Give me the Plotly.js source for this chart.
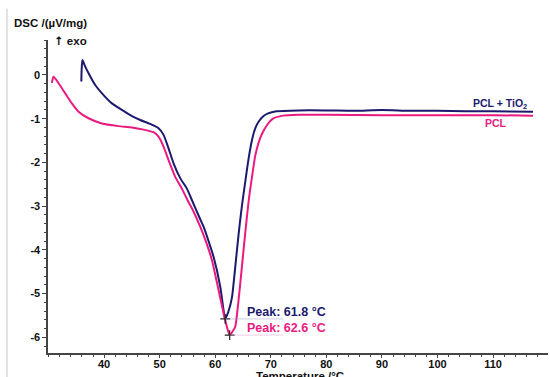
<!DOCTYPE html>
<html>
<head>
<meta charset="utf-8">
<script src="https://cdn.plot.ly/plotly-3.0.1.min.js"></script>
<style>html,body{margin:0;padding:0;background:#fff;}#chart{width:550px;height:377px;}</style>
</head>
<body>
<div id="chart"></div>
<script>
// PCL + TiO2 (navy)
const tio2T = [35.9, 35.95, 36.1, 36.5, 37.2, 38.4, 39.9, 41.4, 43.2, 45.0, 46.5, 48.3, 49.8, 50.7, 51.6, 52.5, 53.7, 54.9, 55.8, 57.3, 57.9, 58.8, 59.7, 60.9, 61.5, 61.8, 62.4, 63.0, 63.6, 64.2, 64.8, 65.4, 66.0, 66.6, 67.2, 67.8, 68.6, 69.5, 71.0, 75, 80, 85, 90, 95, 100, 105, 110, 117.2];
const tio2DSC = [-0.15, 0.10, 0.34, 0.22, 0.04, -0.23, -0.46, -0.65, -0.80, -0.94, -1.03, -1.12, -1.22, -1.37, -1.68, -2.02, -2.36, -2.60, -2.86, -3.30, -3.47, -3.80, -4.16, -4.84, -5.38, -5.58, -5.40, -5.10, -4.40, -3.65, -3.00, -2.45, -1.92, -1.50, -1.22, -1.07, -0.95, -0.88, -0.83, -0.81, -0.81, -0.82, -0.80, -0.82, -0.82, -0.83, -0.83, -0.84];
// PCL (pink)
const pclT = [30.6, 30.9, 31.8, 33.0, 34.2, 35.4, 37.2, 39.6, 42.6, 45.0, 47.1, 48.9, 49.8, 50.7, 51.6, 52.8, 54.0, 55.0, 56.0, 57.3, 58.3, 59.4, 60.6, 61.5, 62.1, 62.6, 63.2, 63.6, 64.2, 64.8, 65.4, 66.0, 66.6, 67.2, 67.8, 68.4, 69.3, 70.4, 72.2, 75, 80, 90, 100, 110, 117.2];
const pclDSC = [-0.18, -0.04, -0.19, -0.42, -0.65, -0.84, -0.99, -1.11, -1.17, -1.20, -1.25, -1.31, -1.41, -1.64, -1.95, -2.33, -2.60, -2.86, -3.10, -3.47, -3.80, -4.23, -4.92, -5.45, -5.76, -5.95, -5.85, -5.76, -5.15, -4.39, -3.62, -2.90, -2.35, -1.85, -1.55, -1.35, -1.15, -1.00, -0.93, -0.91, -0.91, -0.92, -0.92, -0.92, -0.93];
// Peaks
const peakT = [61.8, 62.6];
const peakDSC = [-5.58, -5.95];
const peakLabels = ['Peak: 61.8 °C', 'Peak: 62.6 °C'];
const seriesNames = ['PCL + TiO<sub>2</sub>', 'PCL'];
const xTicks = [40, 50, 60, 70, 80, 90, 100, 110];
const yTicks = [0, -1, -2, -3, -4, -5, -6];

const navy = '#1c1a6e';
const pink = '#ea1a7f';
const colors = [navy, pink];
const F = 'Liberation Sans, Arial, sans-serif';

const traces = [
  {x: tio2T, y: tio2DSC, type: 'scatter', mode: 'lines', line: {color: navy, width: 2, shape: 'spline', smoothing: 0.6}, hoverinfo: 'skip'},
  {x: pclT, y: pclDSC, type: 'scatter', mode: 'lines', line: {color: pink, width: 2, shape: 'spline', smoothing: 0.6}, hoverinfo: 'skip'},
  {x: peakT, y: peakDSC, type: 'scatter', mode: 'markers', marker: {symbol: 'cross-thin', size: 7, line: {color: '#222', width: 1.2}}, hoverinfo: 'skip'}
];

const shapes = [
  {type: 'line', xref: 'paper', yref: 'paper', x0: -0.082, x1: -0.082, y0: -0.08, y1: 1.10, line: {color: '#c8c8c8', width: 1}},
  {type: 'line', x0: peakT[0], x1: peakT[0] + 10.5, y0: peakDSC[0], y1: peakDSC[0], line: {color: 'rgba(150,150,200,0.4)', width: 1.2}},
  {type: 'line', x0: peakT[1], x1: peakT[1] + 9.7, y0: peakDSC[1], y1: peakDSC[1], line: {color: 'rgba(225,160,200,0.4)', width: 1.2}}
];

const annotations = [
  {xref: 'paper', yref: 'paper', x: -0.072, y: 1.054, xanchor: 'left', yanchor: 'middle', showarrow: false, text: 'DSC /(µV/mg)', font: {family: F, size: 11.5, color: '#111', weight: 'bold'}},
  {xref: 'paper', yref: 'paper', x: 0.008, y: 0.997, xanchor: 'left', yanchor: 'middle', showarrow: false, text: '<span style="font-family:DejaVu Sans">↑</span> exo', font: {family: F, size: 11.5, color: '#111', weight: 'bold'}},
  {xref: 'paper', yref: 'paper', x: 0.504, y: -0.047, xanchor: 'center', yanchor: 'top', showarrow: false, text: 'Temperature /°C', font: {family: F, size: 11.5, color: '#111', weight: 'bold'}},
  {x: 65.3, y: -5.42, xanchor: 'left', yanchor: 'middle', showarrow: false, text: peakLabels[0], font: {family: F, size: 12.5, color: navy, weight: 'bold'}},
  {x: 65.3, y: -5.79, xanchor: 'left', yanchor: 'middle', showarrow: false, text: peakLabels[1], font: {family: F, size: 12.5, color: pink, weight: 'bold'}},
  {x: 116.4, y: -0.66, xanchor: 'right', yanchor: 'middle', showarrow: false, text: seriesNames[0], font: {family: F, size: 10.5, color: colors[0], weight: 'bold'}},
  {x: 110.6, y: -1.10, xanchor: 'center', yanchor: 'middle', showarrow: false, text: seriesNames[1], font: {family: F, size: 10.5, color: colors[1], weight: 'bold'}}
];

const layout = {
  width: 550, height: 377,
  margin: {l: 48, r: 2, t: 40, b: 24, pad: 0},
  paper_bgcolor: '#fff', plot_bgcolor: '#fff',
  showlegend: false,
  xaxis: {
    range: [29.9, 119.9], tickvals: xTicks, ticktext: xTicks.map(String),
    showgrid: false, zeroline: false, showline: true, linecolor: '#444', linewidth: 1.6,
    ticks: 'outside', ticklen: 3, tickcolor: '#444', tickwidth: 1, ticklabelstandoff: -3,
    minor: {dtick: 2, tick0: 0, ticks: 'outside', ticklen: 2.5, tickcolor: '#444', showgrid: false},
    tickfont: {family: F, size: 11, color: '#111', weight: 'bold'}
  },
  yaxis: {
    range: [-6.36, 0.80], tickvals: yTicks, ticktext: yTicks.map(String),
    showgrid: false, zeroline: false, showline: true, linecolor: '#444', linewidth: 1.6,
    ticks: 'outside', ticklen: 4, tickcolor: '#444', tickwidth: 1,
    minor: {dtick: 0.2, tick0: 0, ticks: 'outside', ticklen: 2.5, tickcolor: '#444', showgrid: false},
    tickfont: {family: F, size: 11, color: '#111', weight: 'bold'}
  },
  shapes: shapes,
  annotations: annotations
};

Plotly.newPlot('chart', traces, layout, {staticPlot: true, displayModeBar: false});
</script>
</body>
</html>
